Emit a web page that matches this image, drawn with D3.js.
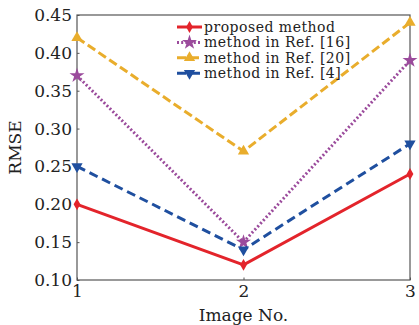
<!DOCTYPE html>
<html><head><meta charset="utf-8">
<script src="https://cdn.jsdelivr.net/npm/d3@7"></script>
<style>body{margin:0;background:#fff}svg{display:block}</style>
</head><body><svg id="c" width="419" height="325"></svg>
<script>
const images = [1, 2, 3];
const proposed = [0.20, 0.12, 0.24];
const ref16 = [0.37, 0.15, 0.39];
const ref20 = [0.42, 0.27, 0.44];
const ref4 = [0.25, 0.14, 0.28];
const yTicks = [0.10, 0.15, 0.20, 0.25, 0.30, 0.35, 0.40, 0.45];
const seriesNames = ["proposed method", "method in Ref. [16]", "method in Ref. [20]", "method in Ref. [4]"];

const svg = d3.select("#c");
const m = {l: 77, r: 410, t: 15, b: 280};
const x = d3.scaleLinear().domain([1, 3]).range([m.l, m.r]);
const y = d3.scaleLinear().domain([0.10, 0.45]).range([m.b, m.t]);
const font = "DejaVu Serif, serif";
const axisCol = "#555";

// frame
svg.append("rect").attr("x", m.l).attr("y", m.t).attr("width", m.r - m.l).attr("height", m.b - m.t)
  .attr("fill", "none").attr("stroke", axisCol).attr("stroke-width", 1.2);

// axes
const gx = svg.append("g").attr("transform", `translate(0,${m.b})`)
  .call(d3.axisBottom(x).tickValues(images).tickFormat(d3.format("d")).tickSizeInner(-2.5).tickSizeOuter(0).tickPadding(5));
const gy = svg.append("g").attr("transform", `translate(${m.l},0)`)
  .call(d3.axisLeft(y).tickValues(yTicks).tickFormat(d3.format(".2f")).tickSizeInner(-2.5).tickSizeOuter(0).tickPadding(5));
[gx, gy].forEach(g => {
  g.select(".domain").remove();
  g.selectAll("line").attr("stroke", axisCol);
  g.selectAll("text").attr("font-family", font).attr("font-size", 17).attr("fill", "#222");
});

svg.append("text").attr("x", (m.l + m.r) / 2).attr("y", 321).attr("text-anchor", "middle")
  .attr("font-family", font).attr("font-size", 17).attr("fill", "#222").text("Image No.");
svg.append("text").attr("transform", `translate(21,${(m.t + m.b) / 2}) rotate(-90)`).attr("text-anchor", "middle")
  .attr("font-family", font).attr("font-size", 17).attr("fill", "#222").text("RMSE");

const series = [
  {name: seriesNames[0], vals: proposed, color: "#e3242b", dash: null, sym: d3.symbolDiamond, size: 40, rot: 0},
  {name: seriesNames[1], vals: ref16, color: "#9b4b9c", dash: "2,2.2", sym: d3.symbolStar, size: 70, rot: 0},
  {name: seriesNames[2], vals: ref20, color: "#e9ad2c", dash: "9,4", sym: d3.symbolTriangle, size: 55, rot: 0},
  {name: seriesNames[3], vals: ref4, color: "#1f4f9f", dash: "9,5", sym: d3.symbolTriangle, size: 55, rot: 180}
];

const line = d3.line().x((d, i) => x(images[i])).y(d => y(d));
series.forEach(s => {
  svg.append("path").datum(s.vals).attr("d", line).attr("fill", "none")
    .attr("stroke", s.color).attr("stroke-width", 3).attr("stroke-dasharray", s.dash);
  svg.selectAll(null).data(s.vals).enter().append("path")
    .attr("d", d3.symbol().type(s.sym).size(s.size))
    .attr("transform", (d, i) => `translate(${x(images[i])},${y(d)}) rotate(${s.rot})`)
    .attr("fill", s.color);
});

// legend
const lg = svg.append("g");
series.forEach((s, i) => {
  const yy = 27 + i * 15.4;
  lg.append("line").attr("x1", 177).attr("x2", 202).attr("y1", yy).attr("y2", yy)
    .attr("stroke", s.color).attr("stroke-width", 3).attr("stroke-dasharray", s.dash);
  lg.append("path").attr("d", d3.symbol().type(s.sym).size(s.size))
    .attr("transform", `translate(189.5,${yy}) rotate(${s.rot})`).attr("fill", s.color);
  lg.append("text").attr("x", 204).attr("y", yy + 5).attr("font-family", font).attr("font-size", 14)
    .attr("letter-spacing", 0.5).attr("fill", "#222").text(s.name);
});
</script></body></html>
